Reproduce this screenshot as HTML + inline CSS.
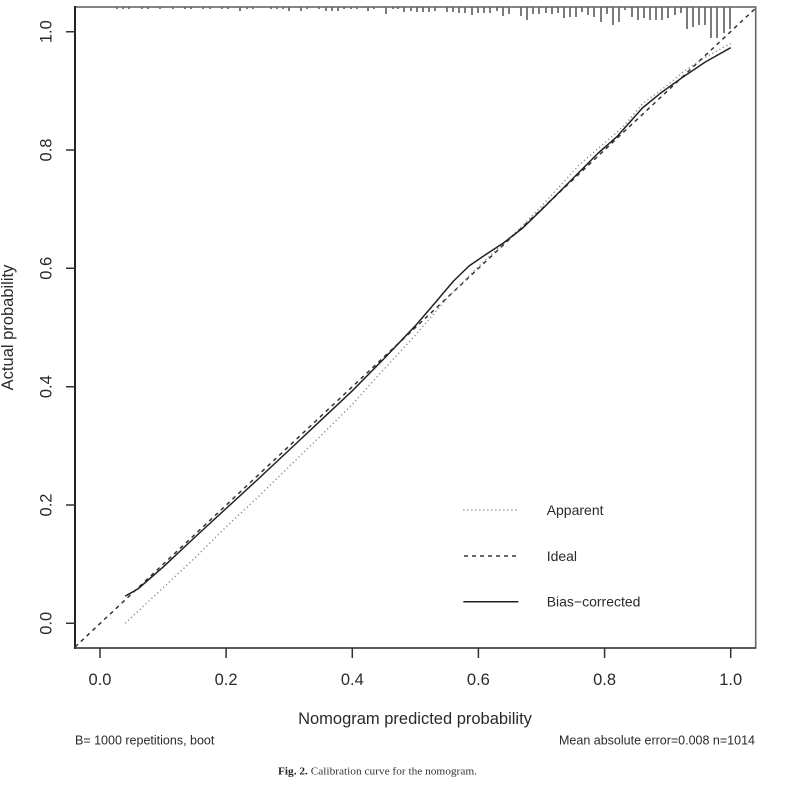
<!DOCTYPE html>
<html><head><meta charset="utf-8"><style>
html,body{margin:0;padding:0;background:#fff;}
svg{display:block;}
text{font-family:"Liberation Sans",Arial,sans-serif;fill:#2a2a2a;}
</style></head><body>
<svg width="800" height="785" viewBox="0 0 800 785" xmlns="http://www.w3.org/2000/svg">
<rect width="800" height="785" fill="#fff"/>
<!-- rug -->
<g stroke="#444" stroke-width="1.4">
<path d="M117 7V9M123 7V9M129 7V9M142 7V9M148 7V9M160 7V9M173 7V9M185 7V9M191 7V9M203 7V9M210 7V9M222 7V9M228 7V9M247 7V9M253 7V9M271 7V9M277 7V9M283 7V9M307 7V9M319 7V9M344 7V9M351 7V9M357 7V9M374 7V9M393 7V9M398 7V9"/>
<path d="M240 7V11M289 7V11M301 7V11M326 7V11M332 7V11M338 7V11M368 7V11M386 7V14"/>
<path d="M404 7V12M411 7V11M417 7V12M423 7V12M429 7V12M435 7V11M447 7V12M453 7V12M459 7V13M465 7V13M472 7V15M478 7V13M484 7V13M490 7V13M497 7V11M503 7V16M509 7V14M521 7V16M527 7V20M533 7V14M539 7V14M546 7V13M552 7V14M558 7V13M564 7V18M570 7V17M576 7V17M582 7V12M588 7V15M594 7V17"/>
<path d="M601 7V22M607 7V14M613 7V25M619 7V22M625 7V10M632 7V17M638 7V20M644 7V18M650 7V20M656 7V20M662 7V20M668 7V18M675 7V15M681 7V13M687 7V29M693 7V27M699 7V25M705 7V25M711 7V38M717 7V38M724 7V33M730 7V29"/>
</g>
<!-- box -->
<rect x="75" y="7" width="680.7" height="641" fill="none" stroke="#666" stroke-width="1.6"/>
<line x1="75" y1="6" x2="75" y2="649" stroke="#222" stroke-width="2"/>
<line x1="75" y1="648" x2="756" y2="648" stroke="#444" stroke-width="1.6"/>
<!-- ticks -->
<g stroke="#333" stroke-width="1.5">
<path d="M66 623.3H75M66 505H75M66 386.7H75M66 268.3H75M66 150H75M66 31.7H75"/>
<path d="M100 648V658M226.1 648V658M352.3 648V658M478.4 648V658M604.6 648V658M730.7 648V658"/>
</g>
<!-- tick labels -->
<g font-size="16.5" text-anchor="middle">
<text x="100" y="685">0.0</text>
<text x="226.1" y="685">0.2</text>
<text x="352.3" y="685">0.4</text>
<text x="478.4" y="685">0.6</text>
<text x="604.6" y="685">0.8</text>
<text x="730.7" y="685">1.0</text>
<text transform="translate(51.5,623.3) rotate(-90)">0.0</text>
<text transform="translate(51.5,505) rotate(-90)">0.2</text>
<text transform="translate(51.5,386.7) rotate(-90)">0.4</text>
<text transform="translate(51.5,268.3) rotate(-90)">0.6</text>
<text transform="translate(51.5,150) rotate(-90)">0.8</text>
<text transform="translate(51.5,31.7) rotate(-90)">1.0</text>
</g>
<!-- axis titles -->
<text x="415" y="724" font-size="16.5" text-anchor="middle">Nomogram predicted probability</text>
<text transform="translate(13,327.5) rotate(-90)" font-size="16.5" text-anchor="middle">Actual probability</text>
<!-- ideal -->
<line x1="75" y1="647" x2="755.5" y2="8.3" stroke="#333" stroke-width="1.5" stroke-dasharray="4 4"/>
<!-- apparent -->
<polyline fill="none" stroke="#888" stroke-width="1.4" stroke-dasharray="1.2 2.8" points="125.2,623.3 163.1,587.8 194.6,558.2 226.1,526.9 257.7,497.3 289.2,466.5 320.7,435.8 352.3,404.4 380,373.6 415.4,335.2 446.9,298.5 478.4,266.6 503.6,243.5 522.6,225.7 541.5,206.2 579.3,164.8 604.6,142.9 623.5,126.4 642.4,103.9 667.6,85 683.4,71.9 705.5,57.1 730.7,43.5"/>
<!-- bias-corrected -->
<polyline fill="none" stroke="#222" stroke-width="1.5" stroke-linejoin="round" points="125.2,596.1 137.8,589 163.1,567.1 194.6,537.5 226.1,508.5 257.7,479.5 289.2,450 320.7,420.4 352.3,390.8 383.8,358.9 415.4,325.7 434.3,303.8 453.2,281.4 469,266 484.7,255.3 503.6,242.9 522.6,228.1 541.5,209.8 573,178.4 598.3,153 617.2,136.4 642.4,108 661.3,92.6 683.4,76.7 705.5,61.9 730.7,47.7"/>
<!-- legend -->
<line x1="463.3" y1="510" x2="518.3" y2="510" stroke="#888" stroke-width="1.4" stroke-dasharray="1.2 2.8"/>
<line x1="464" y1="556" x2="518.3" y2="556" stroke="#333" stroke-width="1.5" stroke-dasharray="4 4"/>
<line x1="463.3" y1="601.7" x2="518.3" y2="601.7" stroke="#222" stroke-width="1.5"/>
<g font-size="14">
<text x="546.7" y="515">Apparent</text>
<text x="546.7" y="561">Ideal</text>
<text x="546.7" y="606.5">Bias−corrected</text>
</g>
<!-- footer -->
<text x="75" y="744.3" font-size="12.5">B= 1000 repetitions, boot</text>
<text x="755" y="744.3" font-size="12.5" text-anchor="end">Mean absolute error=0.008 n=1014</text>
<text x="278" y="774.3" font-size="10.5" textLength="199" lengthAdjust="spacingAndGlyphs" style="font-family:'Liberation Serif',serif;fill:#333"><tspan font-weight="bold" style="fill:#222">Fig. 2.</tspan> Calibration curve for the nomogram.</text>
</svg>
</body></html>
